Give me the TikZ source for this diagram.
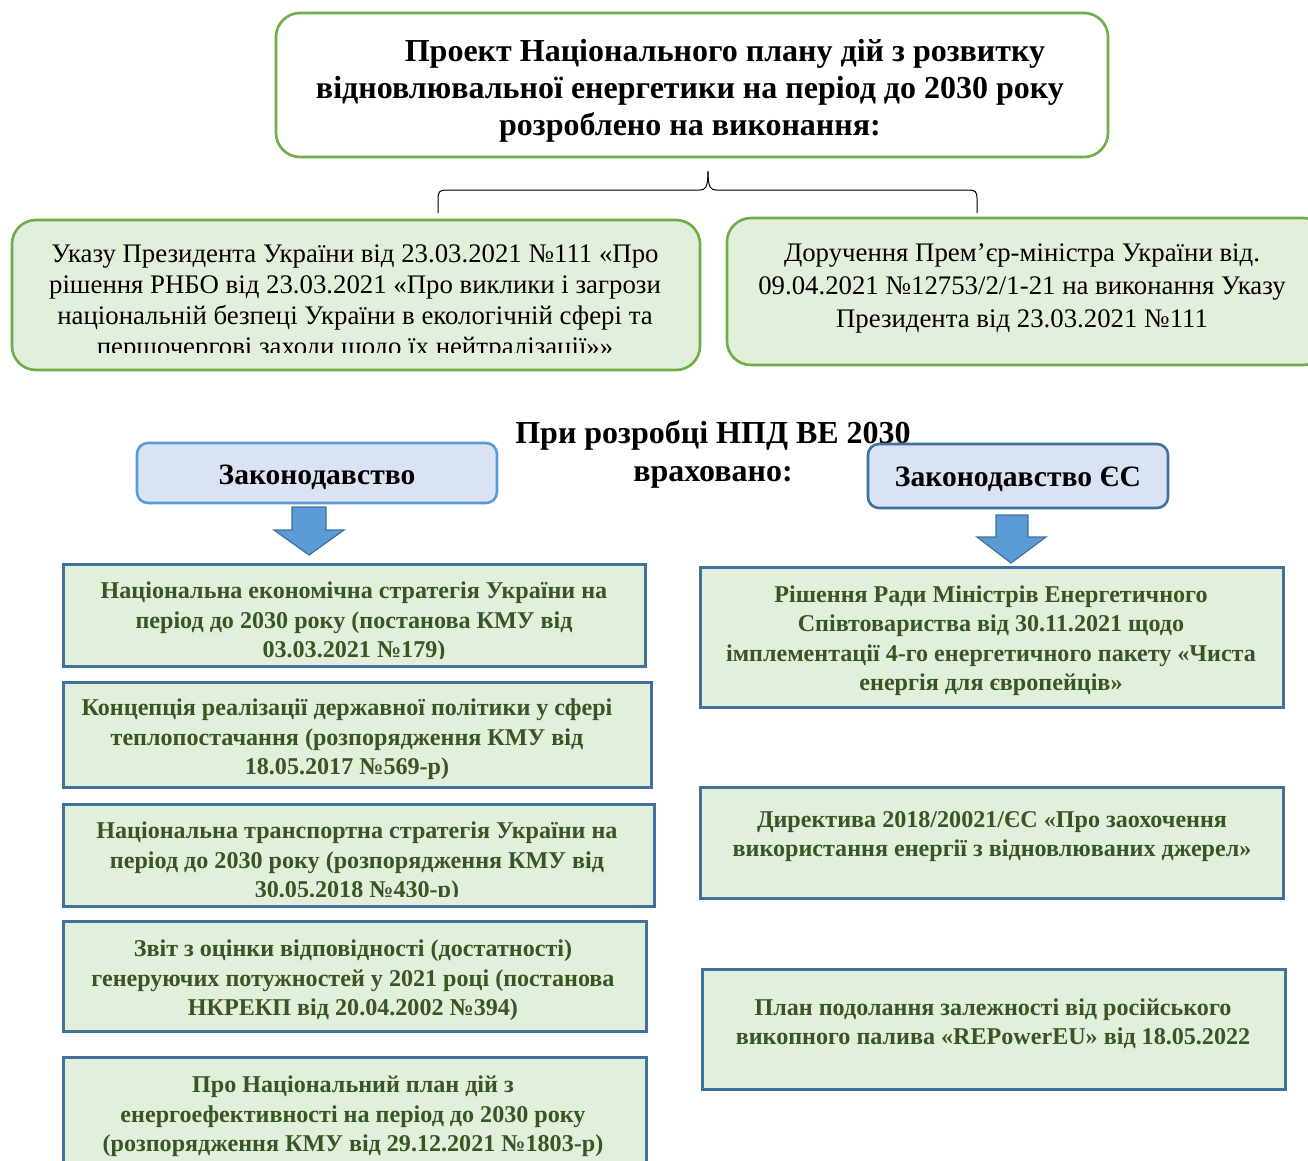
\documentclass[tikz,border=0pt]{standalone}
\usepackage{fontspec}
\setmainfont{Liberation Serif}
\usetikzlibrary{calc}
\definecolor{grnB}{HTML}{70AD47}
\definecolor{grnF}{HTML}{E2EFDA}
\definecolor{bluB}{HTML}{41719C}
\definecolor{bluL}{HTML}{5B9BD5}
\definecolor{bluF}{HTML}{DAE3F3}
\definecolor{dgrn}{HTML}{375623}
\tikzset{
  greenbox/.style={draw=grnB, line width=2.6pt, rounded corners=24pt, inner sep=0pt},
  rectbox/.style={draw=bluB, line width=3pt, fill=grnF, inner sep=0pt},
  zakbox/.style={draw=bluB, line width=2.6pt, fill=bluF, rounded corners=11pt, inner sep=0pt},
  blockarrow/.style={draw=bluB, line width=1.2pt, fill=bluL, line join=miter},
  brace/.style={draw=black, line width=1pt},
  txt/.style={inner sep=0pt, align=center, yshift=-3.5pt},
  rtxt/.style={inner sep=0pt, align=center, yshift=-3.5pt, text=dgrn, font=\fontsize{24.1}{29.5}\selectfont\bfseries},
}
\begin{document}
\begin{tikzpicture}[x=1pt,y=-1pt]
\useasboundingbox (0,0) rectangle (1308,1160);
\clip (0,0) rectangle (1308,1160);
\fill[white] (0,0) rectangle (1308,1160);

% top box
\node[greenbox, fill=white, minimum width=832pt, minimum height=144pt] (top) at (692,85) {};
\node[txt, font=\fontsize{32}{37}\selectfont\bfseries] (toptxt) at (690,87)
  {\hspace*{70pt}Проект Національного плану дій з розвитку\\відновлювальної енергетики на період до 2030 року\\розроблено на виконання:};

% lower green boxes
\node[greenbox, fill=grnF, minimum width=688pt, minimum height=150pt] (ukaz) at (356,295) {};
\node[greenbox, fill=grnF, minimum width=600pt, minimum height=147pt] (dor) at (1027,291.5) {};

% brace
\coordinate (tip) at ($(top.south)+(16,13)$);
\draw[brace] (438,213) -- (438,198) .. controls (438,192) and (440,190) .. (446,190) -- (700,190)
  .. controls (705,190) and (708,188) .. (tip);
\draw[brace] (977,213) -- (977,198) .. controls (977,192) and (975,190) .. (969,190) -- (716,190)
  .. controls (711,190) and (708,188) .. (tip);

\begin{scope}
\clip (0,0) rectangle (1308,352);
\node[txt, font=\fontsize{26.8}{31}\selectfont] (ukaztxt) at (355,299)
  {Указу Президента України від 23.03.2021 №111 «Про\\рішення РНБО від 23.03.2021 «Про виклики і загрози\\національній безпеці України в екологічній сфері та\\першочергові заходи щодо їх нейтралізації»»};
\end{scope}
\node[txt, font=\fontsize{26.8}{33}\selectfont] (dortxt) at (1022,285)
  {Доручення Прем’єр-міністра України від.\\09.04.2021 №12753/2/1-21 на виконання Указу\\Президента від 23.03.2021 №111};

% middle heading
\node[txt, font=\fontsize{32}{38}\selectfont\bfseries] (prz) at (713,451)
  {При розробці НПД ВЕ 2030\\враховано:};

\node[zakbox, draw=bluL, minimum width=360pt, minimum height=60pt] (zak) at (317,473) {};
\node[txt, font=\fontsize{29.5}{34}\selectfont\bfseries] (zaktxt) at (317,474) {Законодавство};
\node[zakbox, minimum width=300pt, minimum height=64pt] (zakeu) at (1018,476) {};
\node[txt, font=\fontsize{29.6}{34}\selectfont\bfseries] (zakeutxt) at (1018,476) {Законодавство ЄС};

% left column
\node[rectbox, minimum width=582pt, minimum height=102pt] (l1) at (354,615) {};
\node[rectbox, minimum width=588pt, minimum height=105pt] (l2) at (357,734.5) {};
\node[rectbox, minimum width=591pt, minimum height=102pt] (l3) at (358.5,855) {};
\node[rectbox, minimum width=583pt, minimum height=110pt] (l4) at (354.5,976) {};
\node[rectbox, minimum width=583pt, minimum height=130pt] (l5) at (354.5,1122) {};

\begin{scope}
\clip (0,0) rectangle (1308,658);
\node[rtxt] (l1t) at (354,619) {Національна економічна стратегія України на\\період до 2030 року (постанова КМУ від\\03.03.2021 №179)};
\end{scope}
\node[rtxt] (l2t) at (347,736) {Концепція реалізації державної політики у сфері\\теплопостачання (розпорядження КМУ від\\18.05.2017 №569-р)};
\begin{scope}
\clip (0,0) rectangle (1308,896);
\node[rtxt] (l3t) at (357,859) {Національна транспортна стратегія України на\\період до 2030 року (розпорядження КМУ від\\30.05.2018 №430-р)};
\end{scope}
\node[rtxt] (l4t) at (353,977) {Звіт з оцінки відповідності (достатності)\\генеруючих потужностей у 2021 році (постанова\\НКРЕКП від 20.04.2002 №394)};
\node[rtxt] (l5t) at (353,1113) {Про Національний план дій з\\енергоефективності на період до 2030 року\\(розпорядження КМУ від 29.12.2021 №1803-р)};

% right column
\node[rectbox, minimum width=583pt, minimum height=140pt] (r1) at (991.5,637) {};
\node[rectbox, minimum width=583pt, minimum height=111pt] (r2) at (991.5,842.5) {};
\node[rectbox, minimum width=583pt, minimum height=120pt] (r3) at (993.5,1029) {};
\node[rtxt] (r1t) at (991,637) {Рішення Ради Міністрів Енергетичного\\Співтовариства від 30.11.2021 щодо\\імплементації 4-го енергетичного пакету «Чиста\\енергія для європейців»};
\node[rtxt] (r2t) at (992,833) {Директива 2018/20021/ЄС «Про заохочення\\використання енергії з відновлюваних джерел»};
\node[rtxt] (r3t) at (993,1020) {План подолання залежності від російського\\викопного палива «REPowerEU» від 18.05.2022};

% block arrows
\draw[blockarrow] (292,507) -- (326,507) -- (326,530) -- (344,530) -- (309,555) -- (274,530) -- (292,530) -- cycle;
\draw[blockarrow] (996,515) -- (1028,515) -- (1028,537) -- (1046,537) -- (1011,563) -- (977,537) -- (996,537) -- cycle;
\end{tikzpicture}
\end{document}
